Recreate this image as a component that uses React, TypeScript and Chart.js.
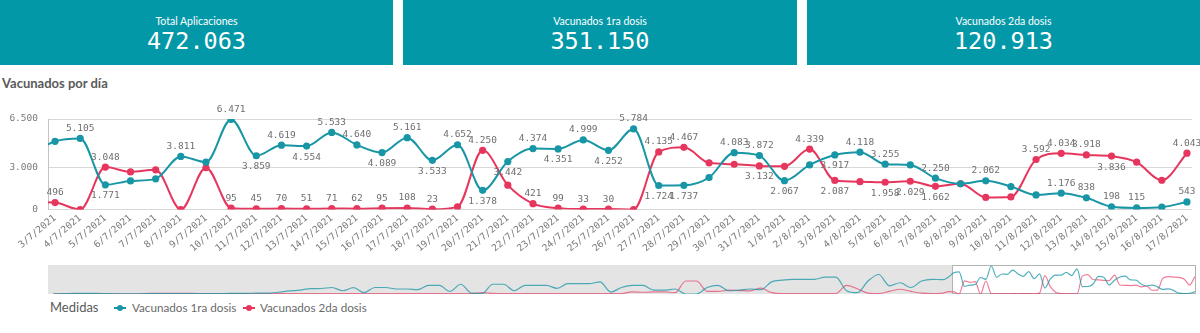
import React, { useEffect, useRef } from 'react';
import { Chart, registerables } from 'chart.js';

Chart.register(...registerables);

// ---------- data ----------
const DATES = [
  '3/7/2021', '4/7/2021', '5/7/2021', '6/7/2021', '7/7/2021', '8/7/2021', '9/7/2021', '10/7/2021',
  '11/7/2021', '12/7/2021', '13/7/2021', '14/7/2021', '15/7/2021', '16/7/2021', '17/7/2021', '18/7/2021',
  '19/7/2021', '20/7/2021', '21/7/2021', '22/7/2021', '23/7/2021', '24/7/2021', '25/7/2021', '26/7/2021',
  '27/7/2021', '28/7/2021', '29/7/2021', '30/7/2021', '31/7/2021', '1/8/2021', '2/8/2021', '3/8/2021',
  '4/8/2021', '5/8/2021', '6/8/2021', '7/8/2021', '8/8/2021', '9/8/2021', '10/8/2021', '11/8/2021',
  '12/8/2021', '13/8/2021', '14/8/2021', '15/8/2021', '16/8/2021', '17/8/2021',
];

const FIRST_DOSE = [
  4900, 5105, 1771, 2050, 2200, 3811, 3400, 6471, 3859, 4619,
  4554, 5533, 4640, 4089, 5161, 3533, 4652, 1378, 3442, 4374,
  4351, 4999, 4252, 5784, 1724, 1737, 2300, 4083, 3872, 2067,
  3200, 3917, 4118, 3255, 3200, 2250, 1850, 2062, 1650, 1050,
  1176, 838, 198, 115, 170, 543,
];

const SECOND_DOSE = [
  496, 0, 3048, 2700, 2850, 0, 3000, 95, 45, 70,
  51, 71, 62, 95, 108, 23, 190, 4250, 1750, 421,
  99, 33, 30, 0, 4135, 4467, 3350, 3250, 3132, 3100,
  4339, 2087, 2000, 1958, 2029, 1662, 1850, 870, 900, 3592,
  4034, 3918, 3836, 3400, 2100, 4043,
];

// day before the visible window (2/7/2021)
const PREV_DAY_FIRST = 3900;
const PREV_DAY_SECOND = 550;

// overview (scroll bar) history, one value every 2 days, starting 168 days before 3/7/2021
const HISTORY_START = -168;
const HISTORY_STEP = 2;
const HISTORY_FIRST = [
  50, 80, 150, 150, 150, 100, 50, 50, 50, 80,
  80, 80, 80, 80, 100, 100, 100, 150, 150, 200,
  200, 400, 700, 900, 1250, 1270, 1500, 750, 1450, 300,
  1500, 1500, 1150, 1150, 1000, 2000, 2000, 600, 2250, 200,
  100, 2250, 2250, 750, 2000, 2000, 2000, 1300, 2400, 2400,
  2400, 2800, 450, 1500, 2000, 2000, 900, 900, 1150, 0,
  0, 1500, 2000, 750, 900, 1150, 1000, 2800, 3200, 3400,
  3400, 3400, 3900, 3900, 750, 300, 3000, 4500, 1900, 2600,
  1500, 3000, 3400, 3300,
];
const HISTORY_SECOND = [
  50, 50, 50, 50, 50, 50, 50, 50, 50, 150,
  150, 150, 150, 150, 80, 80, 80, 80, 80, 80,
  80, 80, 80, 80, 80, 80, 80, 80, 80, 80,
  80, 80, 80, 80, 80, 80, 80, 80, 80, 80,
  300, 150, 100, 100, 100, 100, 100, 100, 100, 100,
  100, 100, 100, 100, 500, 400, 500, 500, 300, 3000,
  3000, 600, 600, 900, 800, 700, 1350, 300, 100, 100,
  100, 100, 100, 100, 2000, 1200, 200, 100, 600, 1100,
  600, 200, 100, 200,
];

const Y_TICKS = [0, 3000, 6500];
const KPI_LABELS = ['Total Aplicaciones', 'Vacunados 1ra dosis', 'Vacunados 2da dosis'];
const KPI_VALUES = [472063, 351150, 120913];
const SERIES_NAMES = ['Vacunados 1ra dosis', 'Vacunados 2da dosis'];
const LEGEND_TITLE = 'Medidas';
const CHART_TITLE = 'Vacunados por día';

// label placement (style): which point labels sit below the point, which are hidden
const FIRST_LABEL_BELOW = [2, 8, 10, 13, 15, 17, 18, 20, 22, 24, 25, 29, 31];
const FIRST_LABEL_HIDDEN = [0, 3, 4, 6, 26, 30, 34, 36, 38, 39, 44];
const SECOND_LABEL_BELOW = [28, 31, 33, 34, 35, 42];
const SECOND_LABEL_HIDDEN = [3, 4, 6, 16, 18, 26, 27, 29, 32, 36, 37, 38, 43, 44];

// ---------- style ----------
const TEAL = '#1896a6';
const RED = '#e7365d';
const KPI_BG = '#0398a8';
const MONO = '"DejaVu Sans Mono", monospace';
const SANS = 'Lato, "Open Sans", sans-serif';

const fmt = (v: number) => String(Math.round(v)).replace(/\B(?=(\d{3})+(?!\d))/g, '.');

const windowData = (vals: number[], prev: number) => [
  { x: -1, y: prev },
  ...vals.map((y, i) => ({ x: i, y })),
];

const fullData = (hist: number[], prev: number, vals: number[]) => [
  ...hist.map((y, k) => ({ x: HISTORY_START + k * HISTORY_STEP, y })),
  ...windowData(vals, prev),
];

const LABEL_RULES = [
  { below: FIRST_LABEL_BELOW, hidden: FIRST_LABEL_HIDDEN },
  { below: SECOND_LABEL_BELOW, hidden: SECOND_LABEL_HIDDEN },
];

const valueLabels = {
  id: 'valueLabels',
  afterDatasetsDraw(chart: any) {
    const ctx = chart.ctx;
    ctx.save();
    ctx.font = `9.5px ${MONO}`;
    ctx.fillStyle = '#6f6f6f';
    ctx.textAlign = 'center';
    ctx.textBaseline = 'middle';
    LABEL_RULES.forEach((rule, di) => {
      const meta = chart.getDatasetMeta(di);
      const data = chart.data.datasets[di].data;
      meta.data.forEach((pt: any, j: number) => {
        const raw = data[j];
        const i = raw.x;
        if (i < 0 || raw.y === 0 || rule.hidden.includes(i)) return;
        const below = rule.below.includes(i);
        ctx.fillText(fmt(raw.y), pt.x, pt.y + (below ? 11 : -10));
      });
    });
    ctx.restore();
  },
};

const overviewBackground = {
  id: 'overviewBackground',
  beforeDatasetsDraw(chart: any) {
    const { ctx, chartArea } = chart;
    const { left, right, top, bottom } = chartArea;
    const wx = chart.scales.x.getPixelForValue(-0.28);
    ctx.save();
    ctx.fillStyle = '#e4e4e4';
    ctx.fillRect(left, top, wx - left, bottom - top);
    ctx.fillStyle = '#ffffff';
    ctx.fillRect(wx, top, right - wx, bottom - top);
    ctx.strokeStyle = '#b3b3b3';
    ctx.lineWidth = 1;
    ctx.strokeRect(Math.round(wx) + 0.5, top + 0.5, Math.round(right - wx) - 1, bottom - top - 1);
    ctx.restore();
  },
};

function MainChart() {
  const ref = useRef<HTMLCanvasElement | null>(null);
  useEffect(() => {
    if (!ref.current) return;
    const chart = new Chart(ref.current, {
      type: 'line',
      data: {
        datasets: [
          {
            label: SERIES_NAMES[0],
            data: windowData(FIRST_DOSE, PREV_DAY_FIRST),
            borderColor: TEAL,
            backgroundColor: TEAL,
            borderWidth: 2,
            pointRadius: (c: any) => (c.raw && c.raw.x < 0 ? 0 : 3.6),
            pointBorderWidth: 0,
            cubicInterpolationMode: 'monotone',
          },
          {
            label: SERIES_NAMES[1],
            data: windowData(SECOND_DOSE, PREV_DAY_SECOND),
            borderColor: RED,
            backgroundColor: RED,
            borderWidth: 2,
            pointRadius: (c: any) => (c.raw && c.raw.x < 0 ? 0 : 3.6),
            pointBorderWidth: 0,
            cubicInterpolationMode: 'monotone',
          },
        ],
      } as any,
      options: {
        animation: false,
        responsive: false,
        maintainAspectRatio: false,
        layout: { padding: { left: 0, right: 8, top: 24, bottom: 0 } },
        plugins: { legend: { display: false }, tooltip: { enabled: false } },
        scales: {
          x: {
            type: 'linear',
            min: -0.28,
            max: 45.2,
            afterBuildTicks: (s: any) => {
              s.ticks = DATES.map((_, i) => ({ value: i }));
            },
            afterFit: (s: any) => {
              s.height = 55.5;
            },
            ticks: {
              autoSkip: false,
              maxRotation: 40,
              minRotation: 40,
              padding: 3,
              color: '#7a7a7a',
              font: { family: MONO, size: 9.5 },
              callback: (v: any) => DATES[v] ?? '',
            },
            grid: { display: false, drawTicks: false },
            border: { display: false },
          },
          y: {
            min: 0,
            max: 6500,
            afterBuildTicks: (s: any) => {
              s.ticks = Y_TICKS.map((v) => ({ value: v }));
            },
            afterFit: (s: any) => {
              s.width = 48;
            },
            ticks: {
              padding: 10,
              color: '#7a7a7a',
              font: { family: MONO, size: 9.5 },
              callback: (v: any) => fmt(Number(v)),
            },
            grid: { color: '#d8d8d8', drawTicks: false },
            border: { display: true, color: '#c4c4c4' },
          },
        },
      } as any,
      plugins: [valueLabels],
    });
    return () => chart.destroy();
  }, []);
  return (
    <canvas
      ref={ref}
      width={1200}
      height={170}
      style={{ position: 'absolute', left: 0, top: 95, width: 1200, height: 170 }}
    />
  );
}

function OverviewChart() {
  const ref = useRef<HTMLCanvasElement | null>(null);
  useEffect(() => {
    if (!ref.current) return;
    const chart = new Chart(ref.current, {
      type: 'line',
      data: {
        datasets: [
          {
            label: SERIES_NAMES[0],
            data: fullData(HISTORY_FIRST, PREV_DAY_FIRST, FIRST_DOSE),
            borderColor: 'rgba(24,150,166,0.75)',
            borderWidth: 1.2,
            pointRadius: 0,
            cubicInterpolationMode: 'monotone',
          },
          {
            label: SERIES_NAMES[1],
            data: fullData(HISTORY_SECOND, PREV_DAY_SECOND, SECOND_DOSE),
            borderColor: 'rgba(231,54,93,0.65)',
            borderWidth: 1.2,
            pointRadius: 0,
            cubicInterpolationMode: 'monotone',
          },
        ],
      } as any,
      options: {
        animation: false,
        responsive: false,
        maintainAspectRatio: false,
        layout: { padding: { left: 48, right: 4, top: 3, bottom: 2 } },
        plugins: { legend: { display: false }, tooltip: { enabled: false } },
        scales: {
          x: { type: 'linear', min: -169, max: 45.2, display: false },
          y: { min: 0, max: 6700, display: false },
        },
      } as any,
      plugins: [overviewBackground],
    });
    return () => chart.destroy();
  }, []);
  return (
    <canvas
      ref={ref}
      width={1200}
      height={34}
      style={{ position: 'absolute', left: 0, top: 262, width: 1200, height: 34 }}
    />
  );
}

const KPI_BOXES = [
  { left: 0, width: 393 },
  { left: 403, width: 394 },
  { left: 807, width: 393 },
];

function Marker({ color, left }: { color: string; left: number }) {
  return (
    <div style={{ position: 'absolute', left, top: 307, width: 12, height: 2, background: color }}>
      <div
        style={{
          position: 'absolute',
          left: 3,
          top: -2,
          width: 6,
          height: 6,
          borderRadius: 3,
          background: color,
        }}
      />
    </div>
  );
}

export default function App() {
  return (
    <div
      style={{
        position: 'absolute',
        left: 0,
        top: 0,
        width: 1200,
        height: 333,
        background: '#ffffff',
        overflow: 'hidden',
      }}
    >
      {KPI_BOXES.map((b, i) => (
        <div
          key={i}
          style={{
            position: 'absolute',
            left: b.left,
            top: 0,
            width: b.width,
            height: 65,
            background: KPI_BG,
            color: '#ffffff',
            textAlign: 'center',
          }}
        >
          <div
            style={{
              position: 'absolute',
              left: 0,
              right: 0,
              top: 14,
              height: 15,
              lineHeight: '15px',
              fontFamily: SANS,
              fontSize: 10.5,
            }}
          >
            {KPI_LABELS[i]}
          </div>
          <div
            style={{
              position: 'absolute',
              left: 0,
              right: 0,
              top: 28,
              height: 26,
              lineHeight: '26px',
              fontFamily: MONO,
              fontSize: 23.5,
            }}
          >
            {fmt(KPI_VALUES[i])}
          </div>
        </div>
      ))}
      <div
        style={{
          position: 'absolute',
          left: 2,
          top: 76,
          lineHeight: '14px',
          fontFamily: SANS,
          fontWeight: 700,
          fontSize: 13,
          color: '#5a5a5a',
        }}
      >
        {CHART_TITLE}
      </div>
      <MainChart />
      <OverviewChart />
      <div
        style={{
          position: 'absolute',
          left: 50,
          top: 299,
          lineHeight: '16px',
          fontFamily: SANS,
          fontSize: 13,
          color: '#5a5a5a',
        }}
      >
        {LEGEND_TITLE}
      </div>
      <Marker color={TEAL} left={114} />
      <div
        style={{
          position: 'absolute',
          left: 132,
          top: 300,
          lineHeight: '15px',
          fontFamily: SANS,
          fontSize: 11.7,
          color: '#6a6a6a',
        }}
      >
        {SERIES_NAMES[0]}
      </div>
      <Marker color={RED} left={243} />
      <div
        style={{
          position: 'absolute',
          left: 260,
          top: 300,
          lineHeight: '15px',
          fontFamily: SANS,
          fontSize: 11.7,
          color: '#6a6a6a',
        }}
      >
        {SERIES_NAMES[1]}
      </div>
    </div>
  );
}
